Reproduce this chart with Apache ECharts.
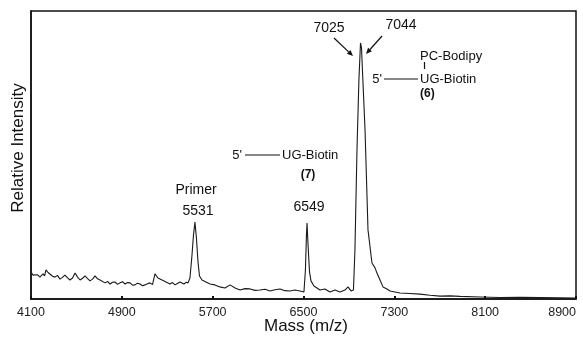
<!DOCTYPE html>
<html>
<head>
<meta charset="utf-8">
<script src="https://cdn.jsdelivr.net/npm/echarts@6/dist/echarts.min.js"></script>
<style>
  html, body { margin: 0; padding: 0; background: #fff; }
  #chart { width: 583px; height: 339px; }
</style>
</head>
<body>
<div id="chart"></div>
<script>
// spectrum: mass (m/z) and relative intensity
const mass = [
  4100, 4118, 4135, 4158, 4179, 4206, 4220, 4232, 4250, 4267, 4290, 4311,
  4333, 4355, 4377, 4399, 4420, 4443, 4466, 4488, 4510, 4532, 4554, 4576,
  4598, 4620, 4642, 4664, 4686, 4708, 4752, 4775, 4796, 4818, 4840, 4862,
  4884, 4906, 4928, 4950, 4972, 4994, 5016, 5038, 5060, 5082, 5104, 5126,
  5148, 5170, 5192, 5218, 5254, 5289, 5306, 5324, 5346, 5368, 5390, 5412,
  5447, 5465, 5483, 5500, 5518, 5531, 5544, 5557, 5571, 5584, 5606, 5641,
  5676, 5720, 5764, 5808, 5853, 5897, 5941, 5985, 6029, 6073, 6117, 6161,
  6205, 6249, 6293, 6337, 6381, 6425, 6469, 6504, 6517, 6526, 6531, 6540,
  6553, 6566, 6592, 6645, 6689, 6733, 6777, 6821, 6865, 6892, 6918, 6940,
  6953, 6971, 6988, 7002, 7011, 7019, 7042, 7068, 7103, 7130, 7147, 7174,
  7200, 7235, 7262, 7350, 7438, 7526, 7614, 7702, 7790, 7878, 8054, 8230,
  8406, 8583, 8750, 8891
];
const intensity = [
  9.4, 8.3, 8.0, 8.4, 7.6, 8.7, 8.0, 10.1, 9.2, 8.7, 7.9, 7.6,
  8.2, 6.9, 7.5, 8.3, 7.4, 6.6, 7.3, 9.0, 7.6, 6.6, 7.2, 8.0,
  7.1, 6.3, 6.9, 8.0, 7.0, 6.6, 5.6, 6.1, 5.2, 5.8, 5.9, 5.1,
  5.6, 6.0, 5.2, 5.7, 5.6, 4.8, 4.9, 5.5, 5.2, 4.6, 4.9, 5.3,
  5.6, 5.0, 8.7, 7.3, 6.6, 5.9, 5.4, 5.2, 5.7, 4.9, 5.4, 5.9,
  5.2, 5.8, 5.6, 7.3, 15.3, 22.2, 26.7, 21.2, 12.8, 8.0, 6.6, 5.9,
  5.2, 4.9, 4.2, 3.8, 4.9, 3.8, 3.1, 3.6, 3.5, 3.0, 3.1, 3.4,
  2.8, 3.2, 3.5, 2.9, 2.8, 3.1, 2.8, 2.4, 10.1, 22.2, 26.4, 18.8,
  9.4, 6.3, 4.5, 3.1, 3.5, 2.4, 3.1, 2.4, 3.1, 4.2, 2.8, 3.1,
  17.0, 51.7, 76.0, 88.9, 87.2, 79.5, 58.7, 24.0, 12.5, 10.8, 9.0, 6.6,
  4.2, 3.5, 2.8, 2.1, 1.9, 1.7, 1.3, 1.0, 1.1, 0.9, 0.7, 0.5,
  0.6, 0.5, 0.4, 0.3
];
const tickValues = [4100, 4900, 5700, 6500, 7300, 8100, 8900];

const font = 'Liberation Sans, Arial, sans-serif';
const ink = '#111';

const chart = echarts.init(document.getElementById('chart'), null, { renderer: 'canvas' });

function txt(text, x, y, size, align, extra) {
  return {
    type: 'text',
    x: x,
    y: y,
    style: Object.assign({
      text: text,
      fill: ink,
      font: size + 'px ' + font,
      textAlign: align || 'center',
      textVerticalAlign: 'middle'
    }, extra || {})
  };
}

function seg(x1, y1, x2, y2, w) {
  return {
    type: 'line',
    shape: { x1: x1, y1: y1, x2: x2, y2: y2 },
    style: { stroke: ink, lineWidth: w || 1 }
  };
}

// arrow with a small filled head at the end point
function arrow(x1, y1, x2, y2) {
  const a = Math.atan2(y2 - y1, x2 - x1);
  const len = 6, half = 2.6;
  const bx = x2 - len * Math.cos(a), by = y2 - len * Math.sin(a);
  const nx = -Math.sin(a) * half, ny = Math.cos(a) * half;
  return [
    seg(x1, y1, bx, by, 1.2),
    {
      type: 'polygon',
      shape: { points: [[x2, y2], [bx + nx, by + ny], [bx - nx, by - ny]] },
      style: { fill: ink }
    }
  ];
}

const option = {
  animation: false,
  backgroundColor: '#fff',
  grid: {
    left: 31, right: 7, top: 11, bottom: 40,
    outerBoundsMode: 'none', // keep the plot box where the picture has it
    containLabel: false,
    show: true,
    borderColor: ink,
    borderWidth: 1.5
  },
  xAxis: {
    type: 'value',
    min: 4100,
    max: 8900,
    axisLine: { show: true, lineStyle: { color: ink, width: 1.5 } },
    axisTick: {
      show: true, inside: true, length: 3,
      customValues: tickValues,
      lineStyle: { color: ink, width: 2 }
    },
    axisLabel: {
      customValues: tickValues,
      formatter: v => String(v),
      margin: 7,
      color: '#222',
      fontFamily: font,
      fontSize: 12.5,
      showMinLabel: true,
      showMaxLabel: true,
      alignMaxLabel: 'right' // last label sits against the right edge
    },
    splitLine: { show: false }
  },
  yAxis: {
    type: 'value',
    min: 0,
    max: 100,
    axisLine: { show: true, lineStyle: { color: ink, width: 1.5 } },
    axisTick: { show: false },
    axisLabel: { show: false },
    splitLine: { show: false }
  },
  series: [{
    type: 'line',
    data: mass.map((m, i) => [m, intensity[i]]),
    showSymbol: false,
    smooth: false,
    clip: true,
    lineStyle: { color: '#1a1a1a', width: 1.1 }
  }],
  graphic: [
    // axis titles
    txt('Mass (m/z)', 306, 326, 17),
    Object.assign(txt('Relative Intensity', 18, 148, 17), { rotation: Math.PI / 2 }),
    // primer
    txt('Primer', 196, 190, 14),
    txt('5531', 198, 211, 14),
    // product 7
    txt('6549', 309, 207, 14),
    txt("5'", 242, 155, 13, 'right'),
    seg(245, 155, 280, 155, 1.2),
    txt('UG-Biotin', 282, 155, 13, 'left'),
    txt('(7)', 308, 175, 13, 'center', { fontWeight: 'bold' }),
    // product 6
    txt('7025', 329, 28, 14),
    txt('7044', 401, 25, 14),
    ...arrow(334, 38, 353, 56),
    ...arrow(382, 36, 366, 54),
    txt('PC-Bodipy', 420, 56, 13, 'left'),
    seg(424.5, 62, 424.5, 69, 1.2),
    txt("5'", 382, 79, 13, 'right'),
    seg(384, 79, 418, 79, 1.2),
    txt('UG-Biotin', 420, 79, 13, 'left'),
    txt('(6)', 420, 94, 13, 'left', { fontWeight: 'bold' })
  ]
};

chart.setOption(option);
</script>
</body>
</html>
